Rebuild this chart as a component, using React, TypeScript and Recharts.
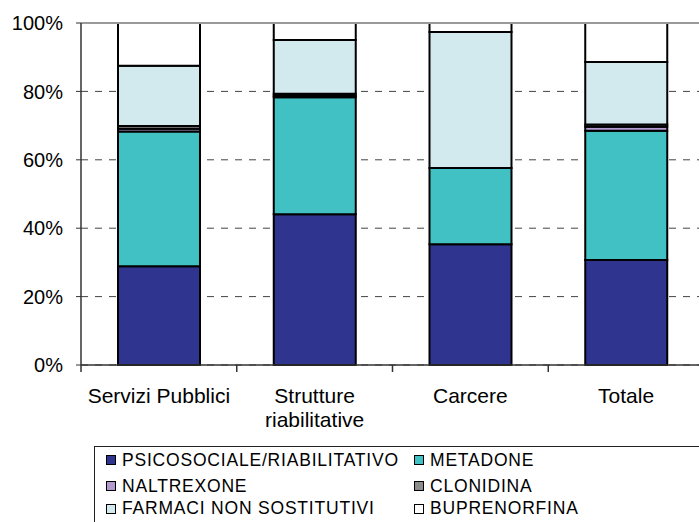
import { BarChart, Bar, XAxis, YAxis, CartesianGrid, ReferenceLine } from 'recharts';

// categorie (l'a capo separa le righe dell'etichetta)
const categories = ['Servizi Pubblici', 'Strutture\nriabilitative', 'Carcere', 'Totale'];

// percentuali
const psicosociale = [28.9, 44.1, 35.3, 30.7];
const metadone = [39.4, 34.2, 22.3, 37.8];
const naltrexone = [0.8, 0.4, 0, 1.2];
const clonidina = [0.8, 0.6, 0, 0.6];
const farmaciNonSostitutivi = [17.6, 15.7, 39.8, 18.3];
const buprenorfina = [12.5, 5.0, 2.6, 11.4];

const yTicks = [0, 20, 40, 60, 80, 100];

const SERIES = [
    { key: 'psico', name: 'PSICOSOCIALE/RIABILITATIVO', values: psicosociale, color: '#2f358f' },
    { key: 'meta', name: 'METADONE', values: metadone, color: '#41c1c3' },
    { key: 'nal', name: 'NALTREXONE', values: naltrexone, color: '#b39bd0' },
    { key: 'clo', name: 'CLONIDINA', values: clonidina, color: '#8c8c8c' },
    { key: 'farm', name: 'FARMACI NON SOSTITUTIVI', values: farmaciNonSostitutivi, color: '#d2e9ee' },
    { key: 'bup', name: 'BUPRENORFINA', values: buprenorfina, color: '#ffffff' },
];

const data = categories.map((cat, i) => {
    const row: Record<string, string | number> = { cat };
    SERIES.forEach((s) => { row[s.key] = s.values[i]; });
    return row;
});

const FONT = '"Liberation Sans", Arial, sans-serif';

function CategoryTick(props: any) {
    const { x, y, payload } = props;
    const off = payload?.offset || 78;
    const lines = String(payload.value).split('\n');
    return (
        <g>
            <line x1={x - off} x2={x - off} y1={y} y2={y + 7} stroke="#333" strokeWidth={1.5} />
            <text x={x} y={y + 38} textAnchor="middle" fontSize={21} fill="#000" fontFamily={FONT}>
                {lines.map((l, i) => (
                    <tspan key={i} x={x} dy={i === 0 ? 0 : 24}>{l}</tspan>
                ))}
            </text>
        </g>
    );
}

function LegendBox() {
    const rows = [[SERIES[0], SERIES[1]], [SERIES[2], SERIES[3]], [SERIES[4], SERIES[5]]];
    const rowTops = [459, 485, 507.5];
    const colX = [105, 413];
    return (
        <div style={{ position: 'absolute', left: 94, top: 446, width: 700, height: 120, borderTop: '1.5px solid #222', borderLeft: '1.5px solid #222' }}>
            {rows.map((row, r) =>
                row.map((s, c) => (
                    <div
                        key={s.key}
                        style={{
                            position: 'absolute',
                            left: colX[c] - 94,
                            top: rowTops[r] - 446 - 10,
                            height: 20,
                            display: 'flex',
                            alignItems: 'center',
                            fontFamily: FONT,
                            fontSize: 17.5,
                            letterSpacing: 0.8,
                            whiteSpace: 'nowrap',
                            color: '#000',
                        }}
                    >
                        <span style={{ display: 'inline-block', width: 8, height: 8, background: s.color, border: '1.5px solid #000', marginRight: 6 }} />
                        {s.name}
                    </div>
                )),
            )}
        </div>
    );
}

export default function App() {
    return (
        <div style={{ position: 'absolute', left: 0, top: 0, width: 699, height: 522, overflow: 'hidden', background: '#fff' }}>
            <BarChart
                width={760}
                height={522}
                data={data}
                margin={{ top: 23, right: 56, bottom: 0, left: 0 }}
                barSize={82}
                style={{ fontFamily: FONT }}
            >
                <CartesianGrid vertical={false} stroke="#444" strokeDasharray="7 7" />
                <ReferenceLine y={100} stroke="#9a9a9a" strokeWidth={2} />
                <XAxis
                    dataKey="cat"
                    tick={<CategoryTick />}
                    tickLine={false}
                    tickSize={0}
                    tickMargin={0}
                    interval={0}
                    axisLine={{ stroke: '#333', strokeWidth: 1.5 }}
                    height={157}
                />
                <YAxis
                    type="number"
                    domain={[0, 100]}
                    ticks={yTicks}
                    tickFormatter={(v: number) => `${v}%`}
                    width={81}
                    tickSize={5}
                    tickMargin={13}
                    tick={{ fontSize: 20, fill: '#000', fontFamily: FONT }}
                    tickLine={{ stroke: '#333' }}
                    axisLine={{ stroke: '#333', strokeWidth: 1.5 }}
                />
                {SERIES.map((s) => (
                    <Bar
                        key={s.key}
                        dataKey={s.key}
                        name={s.name}
                        stackId="a"
                        fill={s.color}
                        stroke="#000"
                        strokeWidth={2}
                        isAnimationActive={false}
                    />
                ))}
            </BarChart>
            <LegendBox />
        </div>
    );
}
